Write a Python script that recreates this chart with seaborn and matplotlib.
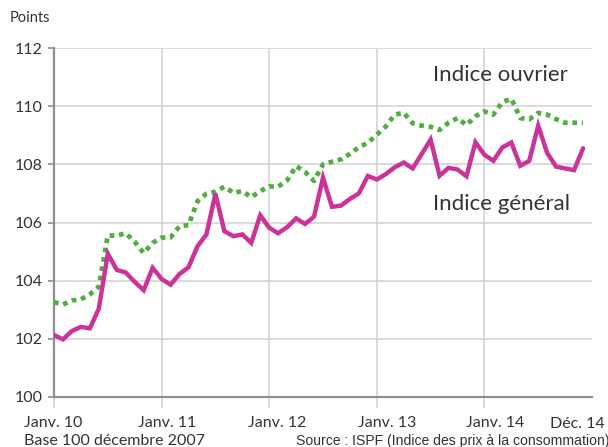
import numpy as np
import pandas as pd
import matplotlib
matplotlib.use('Agg')
import matplotlib.pyplot as plt
import matplotlib.transforms as mtransforms
import seaborn as sns

# Indices mensuels, janv. 2010 -> déc. 2014 (base 100 décembre 2007)
mois = list(range(60))
indice_general = [102.13, 101.98, 102.27, 102.41, 102.36, 103.04, 104.93, 104.37, 104.28, 103.96, 103.67, 104.44,
                  104.06, 103.86, 104.23, 104.46, 105.18, 105.59, 106.99, 105.70, 105.53, 105.59, 105.30, 106.25,
                  105.82, 105.63, 105.84, 106.14, 105.95, 106.20, 107.54, 106.54, 106.58, 106.81, 107.00, 107.60,
                  107.48, 107.66, 107.90, 108.06, 107.86, 108.35, 108.85, 107.61, 107.88, 107.82, 107.59, 108.76,
                  108.33, 108.12, 108.58, 108.75, 107.95, 108.12, 109.33, 108.39, 107.92, 107.86, 107.80, 108.55]
indice_ouvrier = [103.26, 103.18, 103.32, 103.36, 103.53, 103.79, 105.55, 105.55, 105.63, 105.34, 104.95, 105.30,
                  105.48, 105.49, 105.87, 105.91, 106.73, 106.99, 107.06, 107.23, 107.02, 107.08, 106.87, 107.08,
                  107.24, 107.23, 107.45, 107.94, 107.74, 107.43, 108.00, 108.09, 108.17, 108.36, 108.59, 108.74,
                  109.02, 109.30, 109.71, 109.77, 109.41, 109.33, 109.29, 109.18, 109.43, 109.59, 109.35, 109.65,
                  109.82, 109.71, 110.14, 110.26, 109.59, 109.55, 109.77, 109.71, 109.55, 109.43, 109.43, 109.43]
ticks_x = [0, 12, 24, 36, 48]
labels_x = ['Janv. 10', 'Janv. 11', 'Janv. 12', 'Janv. 13', 'Janv. 14']
ticks_y = [100, 102, 104, 106, 108, 110, 112]

df = pd.DataFrame({'mois': mois, 'general': indice_general, 'ouvrier': indice_ouvrier})

sns.set_style('white')
plt.rcParams['font.family'] = ['Lato', 'DejaVu Sans']
texte = '#333333'
gris_axe = '#8f8f8f'
gris_grille = '#d4d4d4'

fig = plt.figure(figsize=(6.08, 4.47), dpi=100)
ax = fig.add_axes([54 / 608, 1 - 397 / 447, (592 - 54) / 608, (397 - 48) / 447])

sns.lineplot(data=df, x='mois', y='ouvrier', ax=ax, color='#4fae3f', lw=3.4,
             linestyle=(0, (1, 1)), zorder=3)
sns.lineplot(data=df, x='mois', y='general', ax=ax, color='#cc3399', lw=3.2,
             zorder=4, solid_joinstyle='miter')

ax.set_xlim(0, 60)
ax.set_ylim(100, 112)
ax.set_xticks(ticks_x)
ax.set_xticklabels(labels_x)
ax.set_yticks(ticks_y)
ax.set_xlabel('')
ax.set_ylabel('')

ax.grid(True, color=gris_grille, lw=1.2)
ax.set_axisbelow(True)
for s in ['top', 'right']:
    ax.spines[s].set_visible(False)
for s in ['left', 'bottom']:
    ax.spines[s].set_color(gris_axe)
    ax.spines[s].set_linewidth(1.6)
ax.tick_params(axis='y', length=4.5, width=1.2, color=gris_axe, pad=4,
               labelsize=11.5, labelcolor=texte, left=True)
ax.tick_params(axis='x', length=8, width=1.2, color=gris_grille, pad=5.5,
               labelsize=11.5, labelcolor=texte, bottom=True)

# the month labels drift a little to the right of their ticks in the original
decalages = [-1, 6, 8, 10, 11]
for lab, dx in zip(ax.get_xticklabels(), decalages):
    lab.set_transform(lab.get_transform() + mtransforms.ScaledTranslation(dx / 100, 0, fig.dpi_scale_trans))

ax.text(58.4, -0.058, 'Déc. 14', ha='center', va='top', fontsize=11.5, color=texte,
        transform=ax.get_xaxis_transform())

ax.text(42.25, 110.86, 'Indice ouvrier', fontsize=16, color=texte, va='baseline')
ax.text(42.25, 106.43, 'Indice général', fontsize=16, color=texte, va='baseline')

fig.text(10 / 608, 1 - 18 / 447, 'Points', fontsize=10.5, color=texte, va='center')
fig.text(24 / 608, 1 - 441 / 447, 'Base 100 décembre 2007', fontsize=11.5, color=texte, va='center')
fig.text(296 / 608, 1 - 441 / 447, 'Source : ISPF (Indice des prix à la consommation)',
         fontsize=10.1, color=texte, va='center', family='Liberation Sans')

fig.savefig('out.png', dpi=100)
